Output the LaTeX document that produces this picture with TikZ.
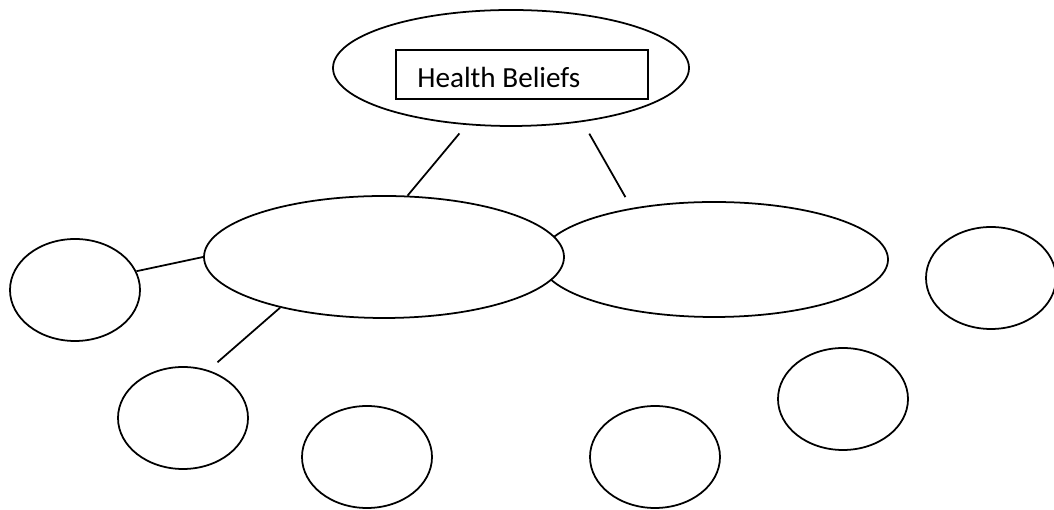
\documentclass[tikz,border=0pt]{standalone}
\usepackage{fontspec}
\setmainfont{Carlito}
\usetikzlibrary{shapes.geometric}
\tikzset{
  oval/.style={draw, ellipse, fill=white, inner sep=0pt, line width=1pt},
  bubble/.style={oval, minimum width=2.6cm, minimum height=2.04cm},
  link/.style={line width=1pt}
}
\begin{document}
\begin{tikzpicture}
        \useasboundingbox (0,0) rectangle (21.08,10.2);
        %Ovales
        \node [oval, minimum width=7.12cm, minimum height=2.32cm] (belief) at (10.22,8.84) {};
        \node [oval, minimum width=6.96cm, minimum height=2.30cm] (rightoval) at (14.28,5.01) {};
        \node [oval, minimum width=7.2cm, minimum height=2.44cm] (leftoval) at (7.68,5.06) {};
        %Boite + Texte
        \node [draw, line width=1pt, minimum width=5.04cm, minimum height=0.98cm, inner sep=0pt] (beliefbox) at (10.44,8.71) {};
        \node [anchor=base west, inner sep=0pt, font=\fontsize{16.6}{19}\selectfont] (belieftext) at (8.34,8.44) {Health Beliefs};
        %Cercles
        \node [bubble] (leftcirc) at (1.5,4.4) {};
        \node [bubble] (rightcirc) at (19.82,4.64) {};
        \node [bubble] (lowcirca) at (3.66,1.84) {};
        \node [bubble] (lowcircb) at (7.34,1.06) {};
        \node [bubble] (lowcircc) at (13.10,1.06) {};
        \node [bubble] (lowcircd) at (16.86,2.22) {};
        %Traits
        \draw [link, shorten <=0.22cm] (belief.232) -- (leftoval.69);
        \draw [link, shorten <=0.27cm, shorten >=0.25cm] (belief.323) -- (rightoval.148);
        \draw [link] (leftcirc.17) -- (leftoval.180);
        \draw [link, shorten >=0.24cm] (leftoval.206) -- (lowcirca.62);
\end{tikzpicture}
\end{document}
